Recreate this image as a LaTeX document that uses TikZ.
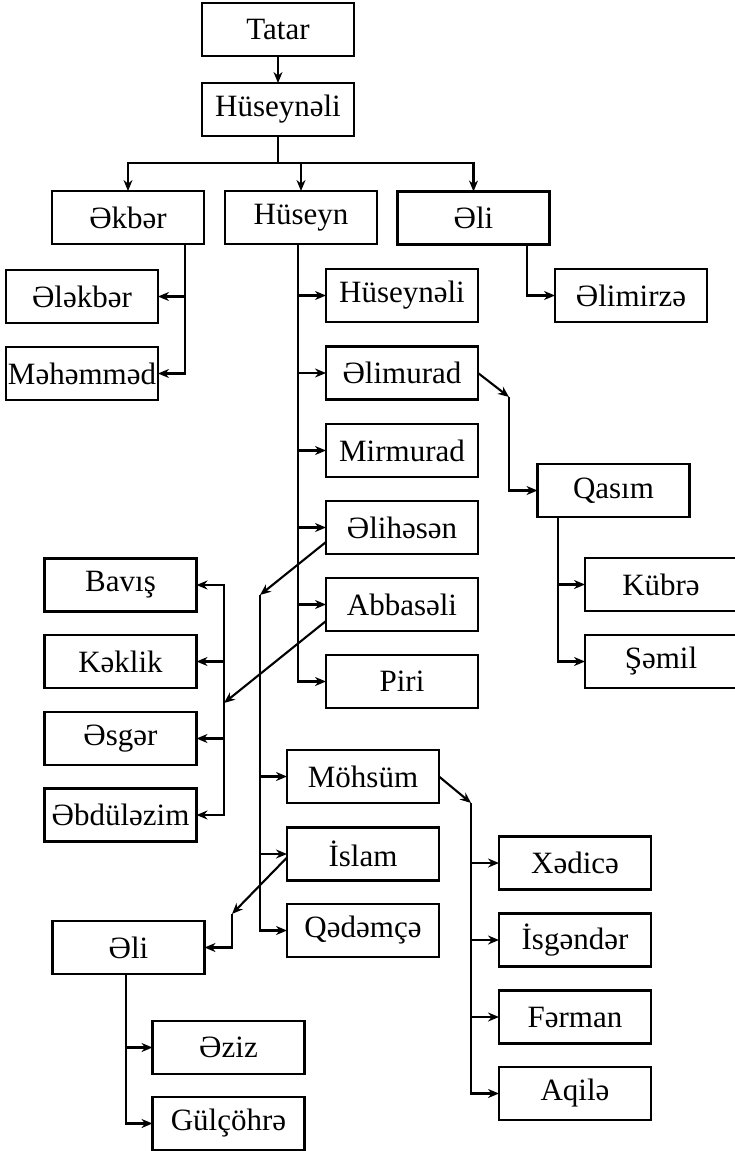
\documentclass[tikz,border=0pt]{standalone}
\usepackage{fontspec}
\setmainfont{Liberation Serif}
\usetikzlibrary{arrows.meta}
\begin{document}
\begin{tikzpicture}[x=1pt,y=-1pt,
  box/.style={draw, line width=2.3pt, minimum width=152pt, minimum height=53pt, inner sep=0pt, outer sep=0pt, font=\fontsize{31}{37}\selectfont},
  conn/.style={line width=2.1pt},
  arr/.style={conn, -{Stealth[length=11pt,width=9pt]}}]
\useasboundingbox (0,0) rectangle (734,1151);
% top
\node[box] (tatar) at (278,29.5) {Tatar};
\node[box] (hus0) at (278,109.5) {Hüseynəli};
\node[box] (akbar) at (128,217.5) {Əkbər};
\node[box] (huseyn) at (301,217.5) {Hüseyn};
\node[box] (ali1) at (473.5,218) {Əli};
% Akbar children
\node[box] (alakbar) at (82,296.5) {Ələkbər};
\node[box] (mahammad) at (82,373.5) {Məhəmməd};
% Ali children
\node[box] (alimirza) at (631,295.5) {Əlimirzə};
% Huseyn children
\node[box] (husn) at (402,295.5) {Hüseynəli};
\node[box] (alimurad) at (402,373) {Əlimurad};
\node[box] (mirmurad) at (402,450.5) {Mirmurad};
\node[box] (alihasan) at (402,527.5) {Əlihəsən};
\node[box] (abbasali) at (402,604.5) {Abbasəli};
\node[box] (piri) at (402,681.5) {Piri};
% Qasim
\node[box] (qasim) at (613.5,490.5) {Qasım};
\node[box] (kubra) at (661,584.5) {Kübrə};
\node[box] (samil) at (661,661.5) {Şəmil};
% Abbasali children
\node[box] (bavis) at (120.5,585) {Bavış};
\node[box] (kaklik) at (120.5,661.5) {Kəklik};
\node[box] (asgar) at (120.5,738.5) {Əsgər};
\node[box] (abdulazim) at (120.5,815) {Əbdüləzim};
% Alihasan children
\node[box] (mohsum) at (363,776.5) {Möhsüm};
\node[box] (islam) at (363,854) {İslam};
\node[box] (qadamca) at (363,930.5) {Qədəmçə};
% Mohsum children
\node[box] (xadica) at (575,863) {Xədicə};
\node[box] (isgandar) at (575,940) {İsgəndər};
\node[box] (farman) at (575,1017) {Fərman};
\node[box] (aqila) at (575,1093.5) {Aqilə};
% Islam children
\node[box] (ali2) at (128.5,947.5) {Əli};
\node[box] (aziz) at (228.5,1047.5) {Əziz};
\node[box] (gulcohra) at (228.5,1123.5) {Gülçöhrə};

% coordinates
\coordinate (j1) at (278,163);
\coordinate (akT) at (185,244);
\coordinate (huT) at (298,244);
\coordinate (alT) at (527,244);
\coordinate (q1) at (509,397);
\coordinate (qT) at (558,517);
\coordinate (e1) at (260,595);
\coordinate (a1) at (224,703);
\coordinate (m1) at (471,803);
\coordinate (i1) at (232,914);
\coordinate (a2T) at (126,974);

% connectors
\draw[arr] (tatar) -- (hus0);
\draw[conn] (hus0) -- (j1);
\draw[arr] (j1) -| (akbar.north);
\draw[arr] (j1) -| (huseyn.north);
\draw[arr] (j1) -| (ali1.north);

\draw[arr] (akT) |- (alakbar.east);
\draw[arr] (akT) |- (mahammad.east);

\draw[arr] (alT) |- (alimirza.west);

\foreach \c in {husn,alimurad,mirmurad,alihasan,abbasali,piri}
  \draw[arr] (huT) |- (\c.west);

\draw[arr] (alimurad.east) -- (q1);
\draw[arr] (q1) |- (qasim.west);
\draw[arr] (qT) |- (kubra.west);
\draw[arr] (qT) |- (samil.west);

\draw[arr] ([yshift=12pt]alihasan.south west) -- (e1);
\foreach \c in {mohsum,islam,qadamca}
  \draw[arr] (e1) |- (\c.west);

\draw[arr] ([yshift=10pt]abbasali.south west) -- (a1);
\foreach \c in {bavis,kaklik,asgar,abdulazim}
  \draw[arr] (a1) |- (\c.east);

\draw[arr] (mohsum.east) -- (m1);
\foreach \c in {xadica,isgandar,farman,aqila}
  \draw[arr] (m1) |- (\c.west);

\draw[arr] ([yshift=23pt]islam.south west) -- (i1);
\draw[arr] (i1) |- (ali2.east);

\draw[arr] (a2T) |- (aziz.west);
\draw[arr] (a2T) |- (gulcohra.west);
\end{tikzpicture}
\end{document}
